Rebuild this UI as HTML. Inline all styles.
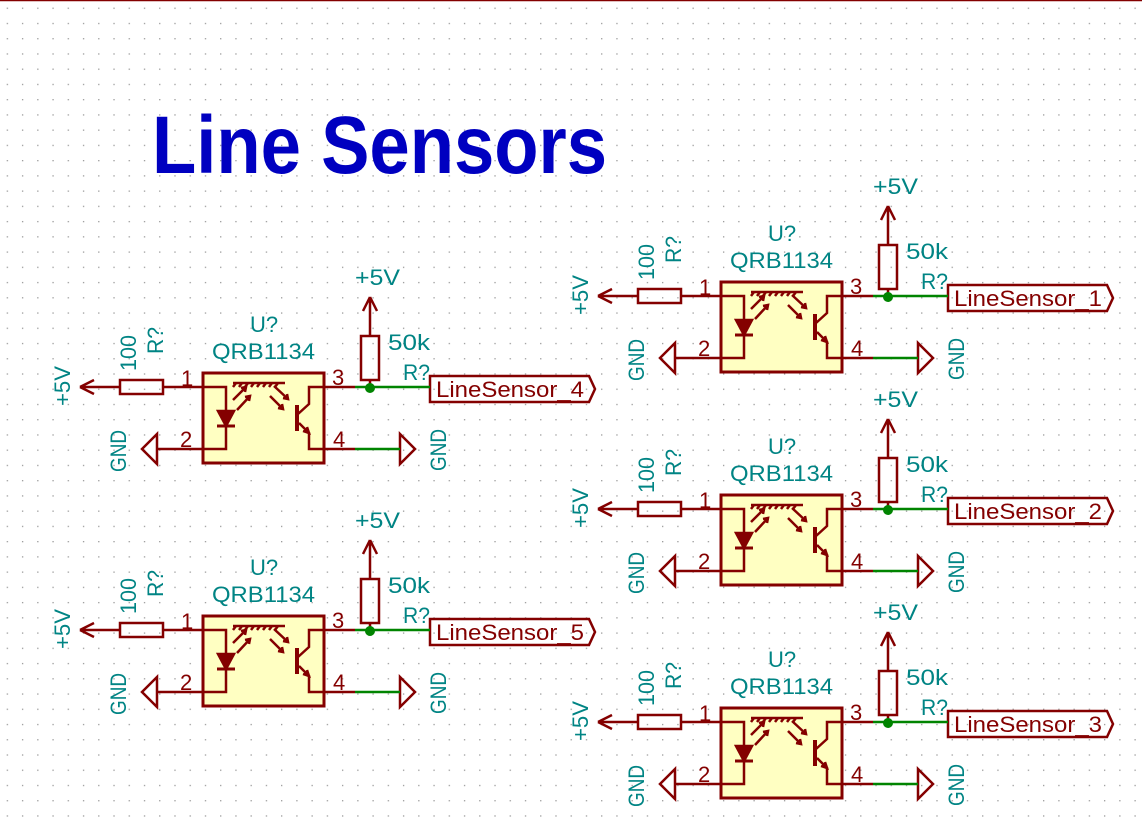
<!DOCTYPE html>
<html><head><meta charset="utf-8"><style>html,body{margin:0;padding:0;background:#fff;}svg{display:block}</style></head>
<body>
<svg width="1142" height="824" viewBox="0 0 1142 824" xmlns="http://www.w3.org/2000/svg" font-family="Liberation Sans, sans-serif">
<defs>
<pattern id="g" x="6.7" y="7.6" width="15.24" height="15.24" patternUnits="userSpaceOnUse">
<rect x="0" y="0" width="1.3" height="1.3" fill="#9a9a9a"/>
</pattern>
<g id="blk">
  <rect x="203" y="373" width="121" height="90" fill="#ffffc2" stroke="#840000" stroke-width="3"/>
  <g stroke="#840000" stroke-width="2.5" fill="none">
    <path d="M163 387 H203 M203 387 H226 V449 H203 M157 449 H203"/>
    <rect x="120" y="380" width="43" height="14"/>
    <path d="M80 387 H120 M80 387 L94 380 M80 387 L94 394"/>
    <path d="M142 449 L157 434 V464 Z"/>
    <path d="M218 411 H234 L226 426 Z" fill="#840000"/>
    <path d="M217 426 H235" stroke-width="3"/>
    <path d="M233 400 L246 387 M241 388 L246 387 L245 392 M237 410 L250 396 M245 397 L250 396 L249 401"/>
    <path d="M233 383 H285" stroke-width="2.5"/>
    <path d="M236 383 l-3 4 M242 383 l-3 4 M248 383 l-3 4 M254 383 l-3 4 M260 383 l-3 4 M266 383 l-3 4 M272 383 l-3 4 M278 383 l-3 4"/>
    <path d="M274 386 L288 399 M283 398 L288 399 L287 394 M270 396 L283 409 M278 408 L283 409 L282 404"/>
    <path d="M297 405 V431" stroke-width="4"/>
    <path d="M324 387 H309 V404 L298 414 M299 423 L309 433 V449 H355"/>
    <path d="M303 431 L309 433 L307 427" fill="#840000"/>
    <path d="M324 387 H355"/>
    <rect x="361" y="336" width="18" height="44"/>
    <path d="M370 336 V297 M370 297 L363 311 M370 297 L377 311 M370 380 V387"/>
    <path d="M430 376 H589 L595 389 L589 402 H430 Z"/>
    <path d="M400 434 V464 L415 449 Z"/>
  </g>
  <g stroke="#008400" stroke-width="2.5">
    <path d="M355 387 H430 M355 449 H400"/>
  </g>
  <circle cx="370" cy="388" r="5" fill="#008400"/>
  <g fill="#008484" font-size="22">
    <text x="264" y="332" text-anchor="middle">U?</text>
    <text x="212" y="359" textLength="103" lengthAdjust="spacingAndGlyphs">QRB1134</text>
    <text x="355" y="285" textLength="45" lengthAdjust="spacingAndGlyphs">+5V</text>
    <text x="388" y="350" textLength="42" lengthAdjust="spacingAndGlyphs">50k</text>
    <text x="403" y="380" textLength="27" lengthAdjust="spacingAndGlyphs">R?</text>
    <text transform="translate(136,371) rotate(-90)" textLength="36" lengthAdjust="spacingAndGlyphs">100</text>
    <text transform="translate(163,354) rotate(-90)" textLength="27" lengthAdjust="spacingAndGlyphs">R?</text>
    <text transform="translate(70,406) rotate(-90)" textLength="40" lengthAdjust="spacingAndGlyphs">+5V</text>
    <text transform="translate(126,472) rotate(-90)" textLength="42" lengthAdjust="spacingAndGlyphs">GND</text>
    <text transform="translate(446,471) rotate(-90)" textLength="42" lengthAdjust="spacingAndGlyphs">GND</text>
  </g>
  <g fill="#840000" font-size="22">
    <text x="181" y="386">1</text>
    <text x="180" y="447">2</text>
    <text x="332" y="385">3</text>
    <text x="333" y="447">4</text>
  </g>
</g>
</defs>
<rect width="1142" height="824" fill="#fff"/>
<rect width="1142" height="824" fill="url(#g)"/>
<line x1="0" y1="0.5" x2="1142" y2="0.5" stroke="#840000" stroke-width="1.5"/>
<text x="152" y="173" font-size="82" font-weight="bold" fill="#0000c0" textLength="455" lengthAdjust="spacingAndGlyphs">Line Sensors</text>

<g><use href="#blk"/><text x="436" y="397" font-size="22" fill="#840000" textLength="148" lengthAdjust="spacingAndGlyphs">LineSensor_4</text></g>
<g transform="translate(0,243)"><use href="#blk"/><text x="436" y="397" font-size="22" fill="#840000" textLength="148" lengthAdjust="spacingAndGlyphs">LineSensor_5</text></g>
<g transform="translate(518,-91)"><use href="#blk"/><text x="436" y="397" font-size="22" fill="#840000" textLength="148" lengthAdjust="spacingAndGlyphs">LineSensor_1</text></g>
<g transform="translate(518,122)"><use href="#blk"/><text x="436" y="397" font-size="22" fill="#840000" textLength="148" lengthAdjust="spacingAndGlyphs">LineSensor_2</text></g>
<g transform="translate(518,335)"><use href="#blk"/><text x="436" y="397" font-size="22" fill="#840000" textLength="148" lengthAdjust="spacingAndGlyphs">LineSensor_3</text></g>
</svg>
</body></html>
